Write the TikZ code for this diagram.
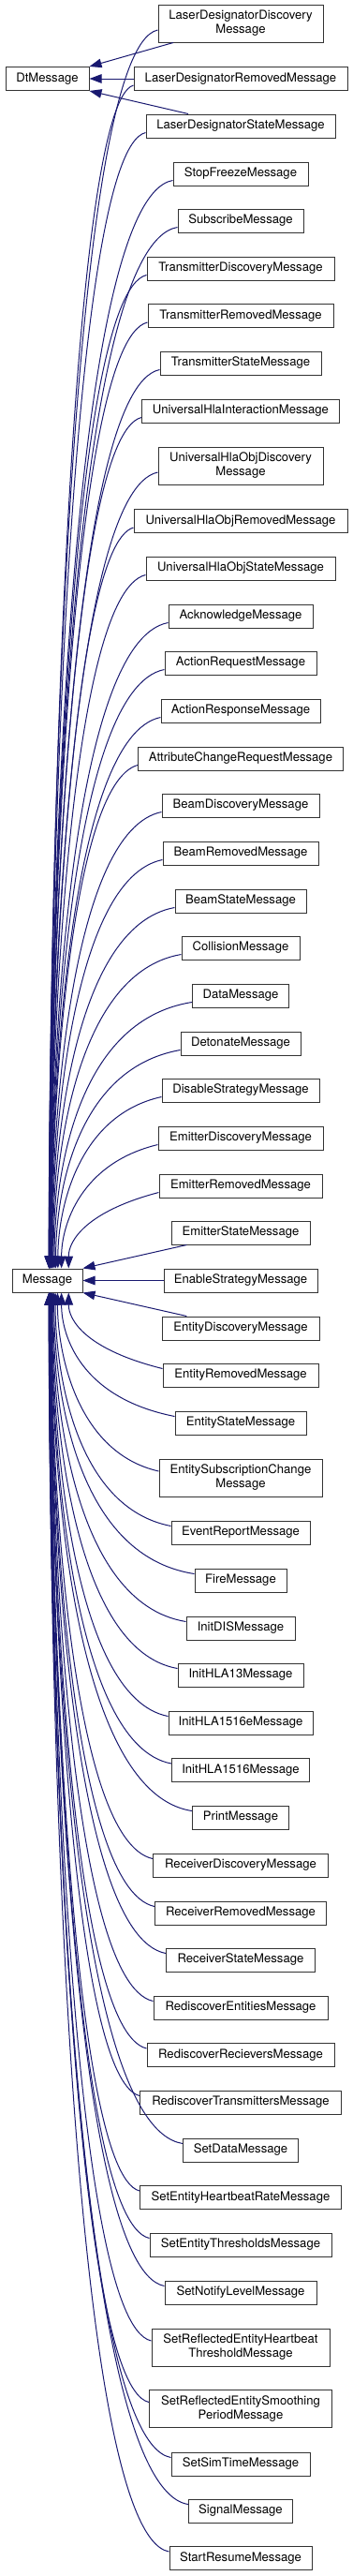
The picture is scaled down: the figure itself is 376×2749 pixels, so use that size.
\documentclass[tikz,border=0pt]{standalone}
\usepackage{fontspec}
\setmainfont{TeX Gyre Heros}
\usepackage{tikz}
\usetikzlibrary{arrows.meta, calc}
\definecolor{midnight}{HTML}{191970}
\tikzset{
  cls/.style={draw=black!80, line width=1pt, fill=white, inner sep=0pt,
    align=center, font=\fontsize{13.1}{15}\selectfont},
  inh/.style={draw=midnight, line width=1pt,
    -{Triangle[length=13pt, width=9.5pt, fill=midnight]}},
}

\begin{document}
\begin{tikzpicture}[x=1pt, y=-1pt]
    \useasboundingbox (0,0) rectangle (376,2749);
    \node[cls, minimum width=89pt, minimum height=25pt] (DtMessage) at (50.5,84) {DtMessage};
    \node[cls, minimum width=75pt, minimum height=25pt] (Message) at (50.5,1366.5) {Message};
    \foreach \cname/\cy/\cw/\ch/\ctext in {
        LaserDesignatorDiscoveryMessage/25/176/40/{LaserDesignatorDiscovery\\Message},
        LaserDesignatorRemovedMessage/84/228/25/LaserDesignatorRemovedMessage,
        LaserDesignatorStateMessage/134.5/202/25/LaserDesignatorStateMessage,
        StopFreezeMessage/185.5/144/25/StopFreezeMessage,
        SubscribeMessage/235.5/134/25/SubscribeMessage,
        TransmitterDiscoveryMessage/286.5/200/25/TransmitterDiscoveryMessage,
        TransmitterRemovedMessage/337/198/25/TransmitterRemovedMessage,
        TransmitterStateMessage/387.5/172/25/TransmitterStateMessage,
        UniversalHlaInteractionMessage/438.5/211/25/UniversalHlaInteractionMessage,
        UniversalHlaObjDiscoveryMessage/497/176/40/{UniversalHlaObjDiscovery\\Message},
        UniversalHlaObjRemovedMessage/556/228/25/UniversalHlaObjRemovedMessage,
        UniversalHlaObjStateMessage/606.5/202/25/UniversalHlaObjStateMessage,
        AcknowledgeMessage/657.5/154/25/AcknowledgeMessage,
        ActionRequestMessage/707.5/162/25/ActionRequestMessage,
        ActionResponseMessage/758.5/170/25/ActionResponseMessage,
        AttributeChangeRequestMessage/809.5/219/25/AttributeChangeRequestMessage,
        BeamDiscoveryMessage/859.5/168/25/BeamDiscoveryMessage,
        BeamRemovedMessage/910.5/166/25/BeamRemovedMessage,
        BeamStateMessage/961.5/140/25/BeamStateMessage,
        CollisionMessage/1011.5/126/25/CollisionMessage,
        DataMessage/1062.5/103/25/DataMessage,
        DetonateMessage/1113.5/128/25/DetonateMessage,
        DisableStrategyMessage/1163.5/168/25/DisableStrategyMessage,
        EmitterDiscoveryMessage/1214.5/176/25/EmitterDiscoveryMessage,
        EmitterRemovedMessage/1265.5/174/25/EmitterRemovedMessage,
        EmitterStateMessage/1315.5/148/25/EmitterStateMessage,
        EnableStrategyMessage/1366.5/164/25/EnableStrategyMessage,
        EntityDiscoveryMessage/1417.5/168/25/EntityDiscoveryMessage,
        EntityRemovedMessage/1467.5/166/25/EntityRemovedMessage,
        EntityStateMessage/1518.5/140/25/EntityStateMessage,
        EntitySubscriptionChangeMessage/1577/174/40/{EntitySubscriptionChange\\Message},
        EventReportMessage/1635.5/148/25/EventReportMessage,
        FireMessage/1686.5/98/25/FireMessage,
        InitDISMessage/1737.5/116/25/InitDISMessage,
        InitHLA13Message/1787.5/134/25/InitHLA13Message,
        InitHLA1516eMessage/1838.5/154/25/InitHLA1516eMessage,
        InitHLA1516Message/1889/147/25/InitHLA1516Message,
        PrintMessage/1939.5/103/25/PrintMessage,
        ReceiverDiscoveryMessage/1990.5/187/25/ReceiverDiscoveryMessage,
        ReceiverRemovedMessage/2041.5/183/25/ReceiverRemovedMessage,
        ReceiverStateMessage/2091.5/159/25/ReceiverStateMessage,
        RediscoverEntitiesMessage/2142.5/186/25/RediscoverEntitiesMessage,
        RediscoverRecieversMessage/2193/200/25/RediscoverRecieversMessage,
        RediscoverTransmittersMessage/2243.5/215/25/RediscoverTransmittersMessage,
        SetDataMessage/2294.5/123/25/SetDataMessage,
        SetEntityHeartbeatRateMessage/2345/215/25/SetEntityHeartbeatRateMessage,
        SetEntityThresholdsMessage/2395.5/194/25/SetEntityThresholdsMessage,
        SetNotifyLevelMessage/2446.5/162/25/SetNotifyLevelMessage,
        SetReflectedEntityHeartbeatThresholdMessage/2505/190/40/{SetReflectedEntityHeartbeat\\ThresholdMessage},
        SetReflectedEntitySmoothingPeriodMessage/2570.5/195/40/{SetReflectedEntitySmoothing\\PeriodMessage},
        SetSimTimeMessage/2629.5/148/25/SetSimTimeMessage,
        SignalMessage/2679.5/111/25/SignalMessage,
        StartResumeMessage/2730/152/25/StartResumeMessage} {
        \node[cls, minimum width=\cw pt, minimum height=\ch pt] (\cname) at (257,\cy) {\ctext};
        \ifdim\cy pt<1300pt
            \pgfmathsetmacro\dd{1366.5-\cy}
            \pgfmathsetmacro\dx{min(23,2300/\dd)}
            \pgfmathsetmacro\ry{min(20,0.2*\dd)}
            \pgfmathsetmacro\rh{0.3*\dd}
            \coordinate (s) at ($(\cname.west)+(0,7)$);
            \coordinate (e) at ($(Message.north)+(\dx,0)$);
            \draw[inh] (s) .. controls ($(s-|e)+(20,\ry)$) and ($(e)+(0,-\rh)$) .. (e);
        \fi
        \ifdim\cy pt>1430pt
            \pgfmathsetmacro\dd{\cy-1366.5}
            \pgfmathsetmacro\dx{min(23,2300/\dd)}
            \pgfmathsetmacro\ry{min(20,0.2*\dd)}
            \pgfmathsetmacro\rh{0.3*\dd}
            \coordinate (s) at ($(\cname.west)+(0,-7)$);
            \coordinate (e) at ($(Message.south)+(\dx,0)$);
            \draw[inh] (s) .. controls ($(s-|e)+(20,-\ry)$) and ($(e)+(0,\rh)$) .. (e);
        \fi
    }
    \draw[inh] (EmitterStateMessage) -- (Message.north east);
    \draw[inh] (EnableStrategyMessage) -- (Message);
    \draw[inh] (EntityDiscoveryMessage) -- (Message.south east);
    \draw[inh] (LaserDesignatorDiscoveryMessage) -- (DtMessage.north east);
    \draw[inh] (LaserDesignatorRemovedMessage) -- (DtMessage);
    \draw[inh] (LaserDesignatorStateMessage) -- (DtMessage.south east);
\end{tikzpicture}
\end{document}
